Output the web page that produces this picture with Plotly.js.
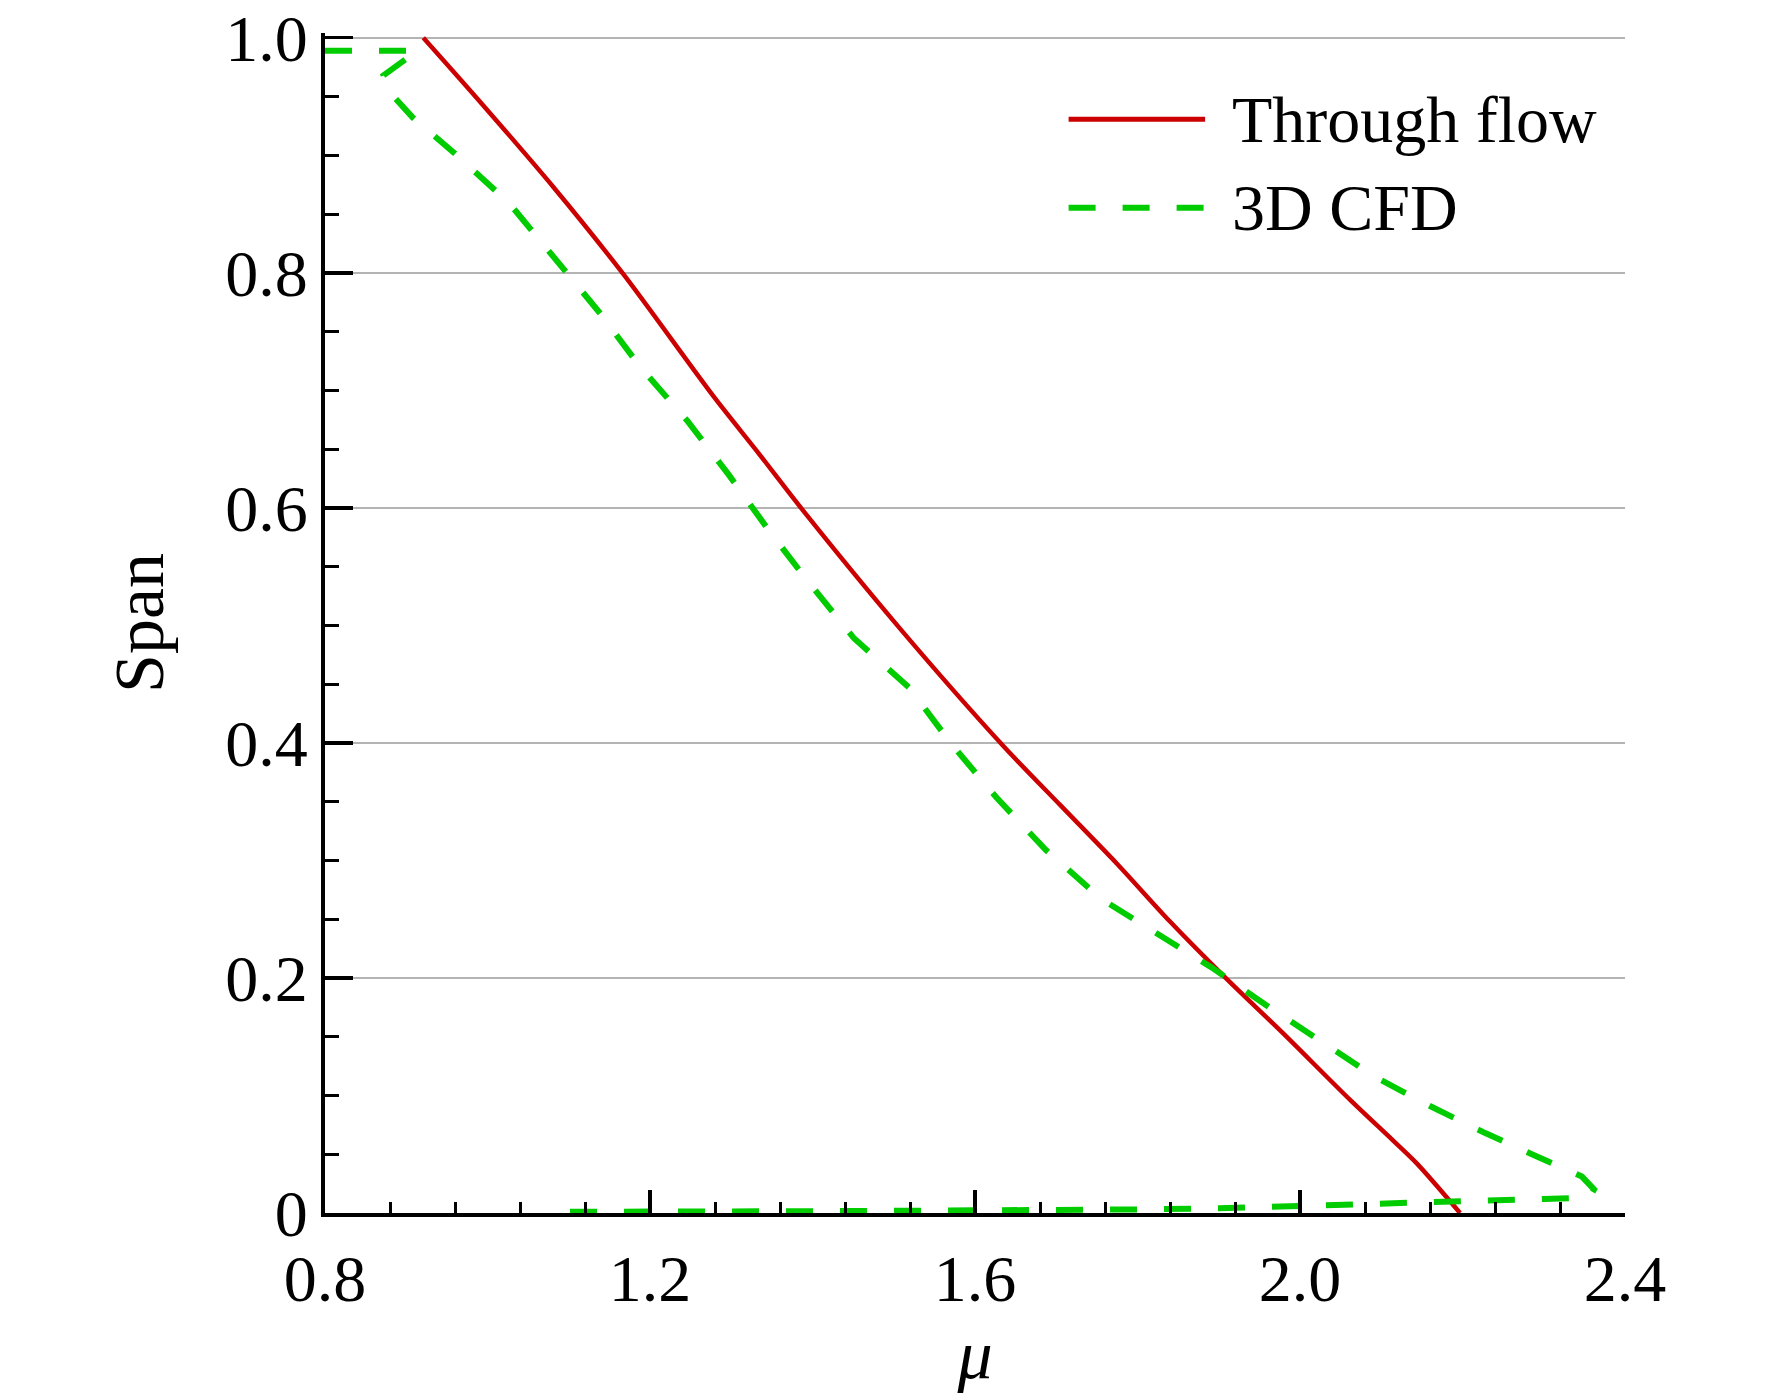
<!DOCTYPE html>
<html>
<head>
<meta charset="utf-8">
<script src="https://cdn.plot.ly/plotly-3.0.1.min.js"></script>
<style>
  body { margin: 0; background: #fff; }
  #plot { width: 1772px; height: 1393px; }
</style>
</head>
<body>
<div id="plot"></div>
<script>
// Through flow (solid red)
const tfMu = [0.921, 0.994, 1.081, 1.167, 1.278, 1.333, 1.388, 1.508, 1.634, 1.705, 1.775, 1.840, 1.910, 1.979, 2.062, 2.114, 2.144, 2.197];
const tfSpan = [1.000, 0.943, 0.873, 0.799, 0.695, 0.647, 0.598, 0.497, 0.398, 0.347, 0.297, 0.248, 0.199, 0.153, 0.096, 0.062, 0.042, 0.000];

// 3D CFD (dashed green), traced as one path: top edge, descending branch, bottom edge
const cfdMu = [0.800, 0.914, 0.872, 0.878, 0.908, 0.959, 1.027, 1.083, 1.138, 1.189, 1.246, 1.297,
  1.346, 1.396, 1.451, 1.519, 1.571, 1.627, 1.687, 1.756, 1.824, 1.891, 1.958, 2.025, 2.092,
  2.160, 2.228, 2.295, 2.347, 2.362, 2.356,
  2.300, 2.200, 2.100, 2.000, 1.900, 1.800, 1.600, 1.400, 1.070];
const cfdSpan = [0.989, 0.989, 0.968, 0.955, 0.932, 0.902, 0.859, 0.813, 0.766, 0.719, 0.674, 0.628,
  0.581, 0.536, 0.489, 0.447, 0.399, 0.353, 0.309, 0.267, 0.238, 0.209, 0.177, 0.146, 0.116,
  0.091, 0.068, 0.047, 0.031, 0.020, 0.013,
  0.012, 0.010, 0.008, 0.005, 0.004, 0.003, 0.002, 0.0015, 0.001];

const seriesNames = ['Through flow', '3D CFD'];
const yTickVals = [0, 0.2, 0.4, 0.6, 0.8, 1.0];
const yTickText = ['0', '0.2', '0.4', '0.6', '0.8', '1.0'];
const xTickVals = [0.8, 1.2, 1.6, 2.0, 2.4];
const xTickText = ['0.8', '1.2', '1.6', '2.0', '2.4'];

const RED = '#cc0000';
const GREEN = '#00cc00';
const FONT = 'Liberation Serif, Times New Roman, serif';

const traces = [
  {x: tfMu, y: tfSpan, mode: 'lines', name: seriesNames[0],
   line: {color: RED, width: 4.5, shape: 'spline', smoothing: 0.8}},
  {x: cfdMu, y: cfdSpan, mode: 'lines', name: seriesNames[1],
   line: {color: GREEN, width: 6, dash: '27px,27px'}}
];

// hand-made legend (long line samples like the original)
const legY = [0.927, 0.852];
const legW = [5, 6];
const legX0 = 0.572, legX1 = 0.677, legTx = 0.696;
const shapes = [], annotations = [];
traces.forEach((t, i) => {
  shapes.push({type: 'line', xref: 'paper', yref: 'paper',
    x0: legX0, x1: legX1, y0: legY[i], y1: legY[i],
    line: {color: t.line.color, width: legW[i], dash: t.line.dash || 'solid'}});
  annotations.push({xref: 'paper', yref: 'paper', x: legTx, y: legY[i],
    xanchor: 'left', yanchor: 'middle', text: t.name, showarrow: false,
    font: {family: FONT, size: 66, color: '#000'}});
});

const layout = {
  width: 1772, height: 1393,
  margin: {l: 325, r: 147, t: 33, b: 180},
  paper_bgcolor: '#fff', plot_bgcolor: '#fff',
  showlegend: false,
  font: {family: FONT, color: '#000', size: 66},
  xaxis: {
    range: [0.8, 2.4], tickvals: xTickVals, ticktext: xTickText,
    ticks: 'inside', ticklen: 23, tickwidth: 3.5, tickcolor: '#000',
    ticklabeloverflow: 'allow', ticklabelstandoff: 5,
    minor: {tick0: 0.8, dtick: 0.08, ticks: 'inside', ticklen: 11, tickwidth: 3, tickcolor: '#000'},
    showline: true, linecolor: '#000', linewidth: 4,
    showgrid: false, zeroline: false,
    tickfont: {family: FONT, size: 66},
    title: {text: '<i>μ</i>', font: {family: FONT, size: 70}, standoff: 25}
  },
  yaxis: {
    range: [0, 1.004], tickvals: yTickVals, ticktext: yTickText,
    ticks: 'inside', ticklen: 28, tickwidth: 3.5, tickcolor: '#000',
    ticklabeloverflow: 'allow',
    minor: {tick0: 0, dtick: 0.05, ticks: 'inside', ticklen: 14, tickwidth: 3, tickcolor: '#000'},
    showline: true, linecolor: '#000', linewidth: 4,
    showgrid: true, gridcolor: '#b4b4b4', gridwidth: 2, zeroline: false,
    tickfont: {family: FONT, size: 66},
    title: {text: 'Span', font: {family: FONT, size: 70}, standoff: 40}
  },
  shapes: shapes,
  annotations: annotations
};

Plotly.newPlot('plot', traces, layout, {staticPlot: true});
</script>
</body>
</html>
